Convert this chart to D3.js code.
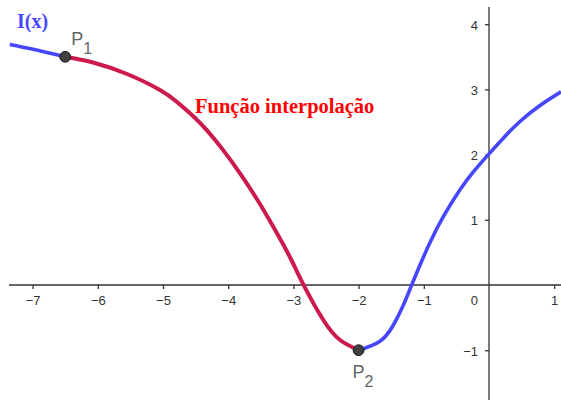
<!DOCTYPE html>
<html>
<head>
<meta charset="utf-8">
<script src="https://cdn.jsdelivr.net/npm/d3@7"></script>
<style>
  body { margin: 0; background: #fff; }
  .axis text { font-family: "Liberation Sans", Arial, sans-serif; font-size: 13px; fill: #333; }
  .axis line { stroke: #333; stroke-width: 1.3; }
</style>
</head>
<body>
<div id="chart"></div>
<script>
// values
var xTicks = [-7, -6, -5, -4, -3, -2, -1, 1];
var yTicks = [-1, 1, 2, 3, 4];

// I(x), part left of P1
var leftBranch = [[-7.35, 3.69], [-6.99, 3.615], [-6.5, 3.5]];
// interpolation P1 -> P2
var interpolation = [
  [-6.5, 3.5], [-6.074, 3.413], [-5.552, 3.236], [-5.046, 2.991], [-4.785, 2.807],
  [-4.54, 2.592], [-4.325, 2.371], [-4.08, 2.072], [-3.819, 1.712], [-3.558, 1.315],
  [-3.313, 0.901], [-3.052, 0.426], [-2.848, 0.01], [-2.541, -0.537], [-2.285, -0.844],
  [-2.0, -1.0]
];
// I(x), part right of P2
var rightBranch = [
  [-2.0, -1.0], [-1.672, -0.862], [-1.468, -0.617], [-1.314, -0.309], [-1.186, 0],
  [-1.058, 0.307], [-0.905, 0.651], [-0.701, 1.049], [-0.445, 1.459], [-0.241, 1.734],
  [0, 2.011], [0.219, 2.252], [0.475, 2.508], [0.782, 2.754], [1.104, 2.963]
];
var points = [{name: "P", sub: "1", x: -6.5, y: 3.5}, {name: "P", sub: "2", x: -2, y: -1}];

var width = 561, height = 400;

var svg = d3.select("#chart").append("svg")
    .attr("width", width)
    .attr("height", height);

var x = d3.scaleLinear().domain([-7.5, 1.1043]).range([0, width]);
var y = d3.scaleLinear().domain([4.371, -1.7638]).range([0, height]);

svg.append("clipPath").attr("id", "view")
  .append("rect").attr("x", 9).attr("y", 7).attr("width", width - 9).attr("height", height - 7);

// axes lines
svg.append("line")
    .attr("x1", 9).attr("x2", width)
    .attr("y1", y(0)).attr("y2", y(0))
    .attr("stroke", "#333").attr("stroke-width", 1.3);
svg.append("line")
    .attr("x1", x(0)).attr("x2", x(0))
    .attr("y1", 7).attr("y2", height)
    .attr("stroke", "#333").attr("stroke-width", 1.3);

var fmt = d => (d < 0 ? "\u2212" : "") + Math.abs(d);
var xAxis = d3.axisBottom(x).tickValues(xTicks).tickFormat(fmt).tickSize(4).tickSizeOuter(0).tickPadding(7);
var yAxis = d3.axisLeft(y).tickValues(yTicks).tickFormat(fmt).tickSize(4).tickSizeOuter(0).tickPadding(7);

svg.append("g").attr("class", "axis")
    .attr("transform", "translate(0," + y(0) + ")")
    .call(xAxis)
    .call(g => g.select(".domain").remove());

svg.append("g").attr("class", "axis")
    .attr("transform", "translate(" + x(0) + ",0)")
    .call(yAxis)
    .call(g => g.select(".domain").remove())
    .selectAll("text").attr("dy", "0.38em");

// origin label
svg.append("text")
    .attr("x", x(0) - 11).attr("y", y(0) + 20)
    .attr("text-anchor", "end")
    .style("font-family", "'Liberation Sans', Arial, sans-serif")
    .style("font-size", "13px").style("fill", "#333")
    .text("0");

var line = d3.line()
    .x(d => x(d[0]))
    .y(d => y(d[1]))
    .curve(d3.curveNatural);

var plot = svg.append("g").attr("clip-path", "url(#view)");

plot.append("path")
    .datum(leftBranch)
    .attr("d", line)
    .attr("fill", "none").attr("stroke", "#4646ff").attr("stroke-width", 3.6);

plot.append("path")
    .datum(rightBranch)
    .attr("d", line)
    .attr("fill", "none").attr("stroke", "#4646ff").attr("stroke-width", 3.6);

plot.append("path")
    .datum(interpolation)
    .attr("d", line)
    .attr("fill", "none").attr("stroke", "#cc1a4c").attr("stroke-width", 4);

// points
svg.selectAll(".pt").data(points).enter().append("circle")
    .attr("class", "pt")
    .attr("cx", d => x(d.x)).attr("cy", d => y(d.y))
    .attr("r", 5.4)
    .attr("fill", "#404040").attr("stroke", "#1a1a1a").attr("stroke-width", 1);

// point labels
var labelPos = [[6, -11.5], [-6, 28]];
svg.selectAll(".plab").data(points).enter().append("text")
    .attr("class", "plab")
    .attr("x", (d, i) => x(d.x) + labelPos[i][0])
    .attr("y", (d, i) => y(d.y) + labelPos[i][1])
    .style("font-family", "'Liberation Sans', Arial, sans-serif")
    .style("font-size", "18px").style("fill", "#646464")
    .each(function(d) {
      var t = d3.select(this);
      t.append("tspan").text(d.name);
      t.append("tspan").attr("dy", 9).style("font-size", "16px").text(d.sub);
    });

// titles
svg.append("text")
    .attr("x", 17).attr("y", 28)
    .style("font-family", "'Liberation Serif', 'Times New Roman', serif")
    .style("font-weight", "bold").style("font-size", "20px").style("fill", "#4646ff")
    .text("I(x)");

svg.append("text")
    .attr("x", 195).attr("y", 113)
    .style("font-family", "'Liberation Serif', 'Times New Roman', serif")
    .style("font-weight", "bold").style("font-size", "20.5px").style("fill", "#ff0000")
    .text("Função interpolação");
</script>
</body>
</html>
